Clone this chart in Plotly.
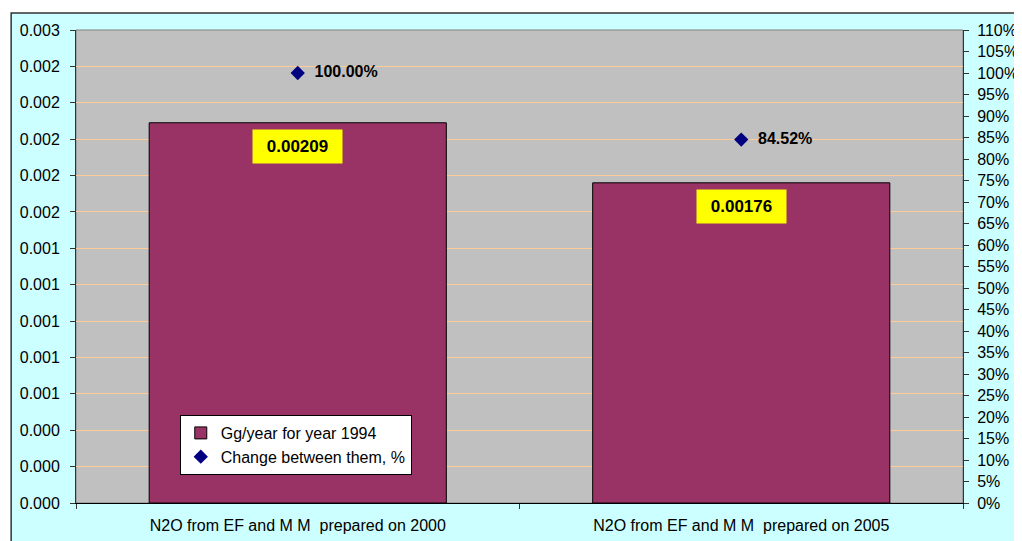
import plotly.graph_objects as go

categories = ["N2O from EF and M M  prepared on 2000", "N2O from EF and M M  prepared on 2005"]
emissions = [0.00209, 0.00176]
change_pct = [1.0, 0.8452]
emission_labels = ["0.00209", "0.00176"]
change_labels = ["100.00%", "84.52%"]

FONT = "Arial, Liberation Sans, sans-serif"
OFF = 8  # page body margin

# plot area in screen pixels: x 75..964, y 30..503
L, T = 75 - OFF, 30 - OFF
PW, PH = 964 - 75, 503 - 30
R = 1022 - L - PW
B = 541 - T - PH


def px_x(x):
    return (x - OFF - L) / PW


def px_y(y):
    return (T + PH - (y - OFF)) / PH


fig = go.Figure()

fig.add_trace(go.Bar(
    x=categories,
    y=emissions,
    name="Gg/year for year 1994",
    width=0.67,
    marker=dict(color="#993366", line=dict(color="black", width=1)),
))

fig.add_trace(go.Scatter(
    x=categories,
    y=change_pct,
    yaxis="y2",
    name="Change between them, %",
    mode="markers+text",
    text=["  " + t for t in change_labels],
    textposition="middle right",
    textfont=dict(family=FONT, size=16, color="black", weight="bold"),
    marker=dict(symbol="diamond", size=11, color="#000080"),
))

# yellow data labels under the bar tops
for cat, val, lab in zip(categories, emissions, emission_labels):
    fig.add_annotation(
        x=cat, y=val, xref="x", yref="y",
        text="<b>" + lab + "</b>",
        showarrow=False, yanchor="top", yshift=-6,
        bgcolor="#ffff00", borderpad=5, width=79, height=23,
        font=dict(family=FONT, size=17, color="black"),
    )

shapes = [
    # light cyan chart area with dark border
    dict(type="rect", xref="paper", yref="paper", layer="below",
         x0=px_x(10), x1=px_x(1040), y0=px_y(560), y1=px_y(13),
         fillcolor="#ccffff", line=dict(color="#333333", width=1.5)),
    # grey plot area
    dict(type="rect", xref="paper", yref="paper", layer="below",
         x0=0, x1=1, y0=0, y1=1,
         fillcolor="#c0c0c0", line=dict(color="#808080", width=1)),
]

fig.update_layout(
    width=1022, height=541,
    margin=dict(l=L, r=R, t=T, b=B),
    paper_bgcolor="white",
    plot_bgcolor="rgba(0,0,0,0)",
    font=dict(family=FONT, size=16, color="black"),
    shapes=shapes,
    showlegend=True,
    legend=dict(
        x=px_x(179), y=px_y(415), xanchor="left", yanchor="top",
        bgcolor="white", bordercolor="black", borderwidth=1,
        font=dict(family=FONT, size=16, color="black"),
        tracegroupgap=0, itemwidth=30,
    ),
    xaxis=dict(
        type="category",
        showgrid=False,
        ticks="outside", tickson="boundaries", ticklen=5, tickcolor="#333333",
        showline=True, linecolor="black", linewidth=1,
        tickfont=dict(family=FONT, size=16), ticklabelstandoff=8,
    ),
    yaxis=dict(
        range=[0, 0.0026], tick0=0, dtick=0.0002, tickformat=".3f",
        showgrid=True, gridcolor="#ffcc99", gridwidth=1,
        zeroline=False,
        ticks="outside", ticklen=5, tickcolor="#333333",
        showline=True, linecolor="#333333", linewidth=1,
        tickfont=dict(family=FONT, size=16), ticklabelstandoff=7,
    ),
    yaxis2=dict(
        range=[0, 1.1], tick0=0, dtick=0.05, tickformat=".0%",
        overlaying="y", side="right",
        showgrid=False, zeroline=False,
        ticks="outside", ticklen=5, tickcolor="#333333",
        showline=True, linecolor="#333333", linewidth=1,
        tickfont=dict(family=FONT, size=16), ticklabelstandoff=5,
    ),
)

fig.write_html("out.html")
